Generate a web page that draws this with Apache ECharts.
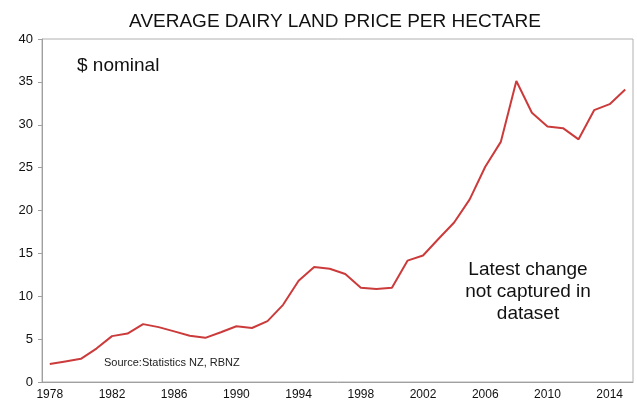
<!DOCTYPE html>
<html><head><meta charset="utf-8">
<script src="https://cdn.jsdelivr.net/npm/echarts@6/dist/echarts.min.js"></script>
<style>html,body{margin:0;padding:0;background:#fff}#c{width:637px;height:405px}</style>
</head><body><div id="c"></div>
<script>
const years = [1978,1979,1980,1981,1982,1983,1984,1985,1986,1987,1988,1989,1990,1991,1992,1993,1994,1995,1996,1997,1998,1999,2000,2001,2002,2003,2004,2005,2006,2007,2008,2009,2010,2011,2012,2013,2014,2015];
const price = [2.1,2.4,2.7,3.9,5.35,5.65,6.75,6.4,5.9,5.4,5.15,5.8,6.5,6.3,7.1,9.0,11.8,13.4,13.2,12.6,11.0,10.85,11.0,14.15,14.75,16.7,18.6,21.3,25.1,28.0,35.1,31.4,29.8,29.6,28.3,31.7,32.4,34.1];
const yTicks = [0,5,10,15,20,25,30,35,40];
const title = 'AVERAGE DAIRY LAND PRICE PER HECTARE';

const chart = echarts.init(document.getElementById('c'));
chart.setOption({
  animation:false,
  title:{text:title,left:330,top:7,textAlign:'center',textStyle:{fontFamily:'Liberation Sans',fontSize:19,fontWeight:'normal',color:'#111'}},
  grid:{left:42,top:39,right:4,bottom:23,show:true,borderColor:'#b0b0b0',borderWidth:1},
  xAxis:{type:'category',data:years.map(String),boundaryGap:true,
    axisLine:{lineStyle:{color:'#a0a0a0'}},
    axisTick:{interval:3,length:5,lineStyle:{color:'#a0a0a0'}},
    axisLabel:{interval:3,color:'#111',fontFamily:'Liberation Sans',fontSize:12,margin:7}},
  yAxis:{type:'value',min:0,max:40,interval:5,
    axisLine:{show:true,lineStyle:{color:'#a0a0a0'}},
    axisTick:{show:true,length:4,lineStyle:{color:'#a0a0a0'}},
    splitLine:{show:false},
    axisLabel:{color:'#111',fontFamily:'Liberation Sans',fontSize:13,margin:9,
      formatter:v=>yTicks.includes(v)?String(v):''}},
  series:[{type:'line',data:price,symbol:'none',lineStyle:{color:'#cc3b3b',width:2}}],
  graphic:[
    {type:'text',left:77,top:56,style:{text:'$ nominal',font:'19px "Liberation Sans"',fill:'#111'}},
    {type:'text',left:104,top:357,style:{text:'Source:Statistics NZ, RBNZ',font:'11px "Liberation Sans"',fill:'#222'}},
    {type:'text',x:528,y:259,style:{text:'Latest change\nnot captured in\ndataset',font:'19px "Liberation Sans"',fill:'#111',align:'center',lineHeight:22}}
  ]
});
</script></body></html>
